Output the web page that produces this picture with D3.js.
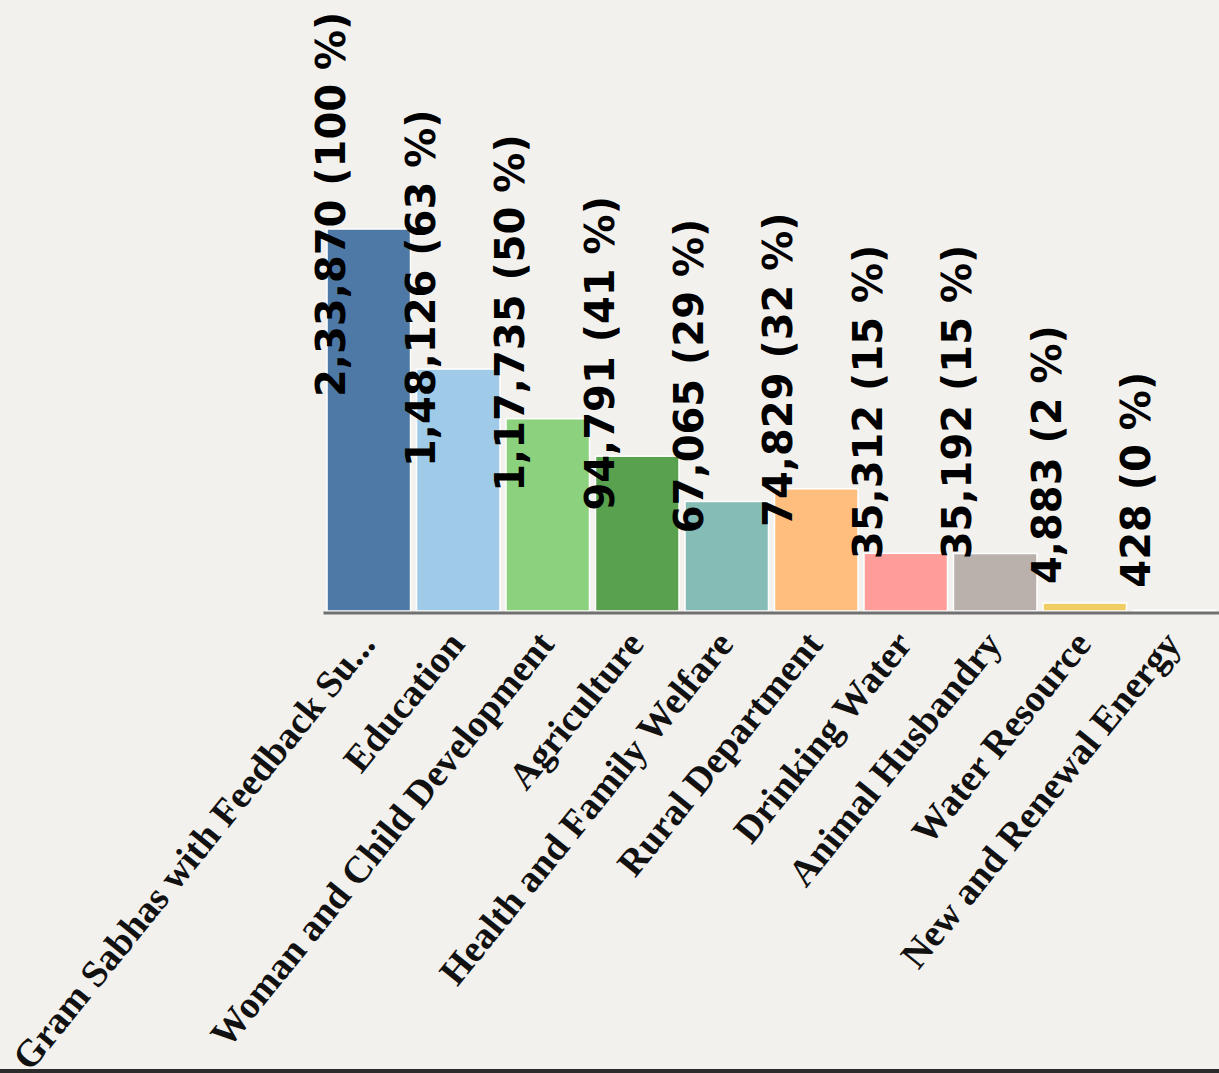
<!DOCTYPE html>
<html>
<head>
<meta charset="utf-8">
<script src="https://cdn.jsdelivr.net/npm/d3@7"></script>
<style>
  html, body { margin: 0; padding: 0; background: #f2f1ee; overflow: hidden; }
</style>
</head>
<body>
<svg id="chart"></svg>
<script>
// departments on the x axis (first one is shown truncated in the source)
const departments = [
    "Gram Sabhas with Feedback Su...",
    "Education",
    "Woman and Child Development",
    "Agriculture",
    "Health and Family Welfare",
    "Rural Department",
    "Drinking Water",
    "Animal Husbandry",
    "Water Resource",
    "New and Renewal Energy"
];

// counts per department
const counts = [233870, 148126, 117735, 94791, 67065, 74829, 35312, 35192, 4883, 428];

// share of the first bar, as printed in the labels
const percents = [100, 63, 50, 41, 29, 32, 15, 15, 2, 0];

const barColors = [
    "#4e79a7", "#a0cbe8", "#8cd17d", "#59a14f", "#86bcb6",
    "#ffbe7d", "#ff9d9a", "#bab0ac", "#f1ce63", "#d4a6c8"
];

const width = 1219;
const height = 1073;
const margin = { left: 323, right: -1, base: 611, top: 229 };

const data = departments.map((name, i) => ({
    name,
    value: counts[i],
    pct: percents[i],
    color: barColors[i]
}));

const svg = d3.select("#chart")
    .attr("width", width)
    .attr("height", height);

const x = d3.scaleBand()
    .domain(departments)
    .range([margin.left, width - margin.right])
    .paddingInner(0.067)
    .paddingOuter(0.045);

const y = d3.scaleLinear()
    .domain([0, d3.max(counts)])
    .range([margin.base, margin.top]);

// Indian-style grouping: 2,33,870
const fmt = v => {
    const s = String(v);
    if (s.length <= 3) return s;
    const last3 = s.slice(-3);
    let rest = s.slice(0, -3);
    const parts = [];
    while (rest.length > 2) {
        parts.unshift(rest.slice(-2));
        rest = rest.slice(0, -2);
    }
    if (rest) parts.unshift(rest);
    return parts.join(",") + "," + last3;
};

svg.selectAll("rect.bar")
    .data(data)
    .enter()
    .append("rect")
    .attr("class", "bar")
    .attr("x", d => x(d.name))
    .attr("y", d => y(d.value))
    .attr("width", x.bandwidth())
    .attr("height", d => y(0) - y(d.value))
    .attr("fill", d => d.color)
    .attr("stroke", "#ffffff")
    .attr("stroke-width", 1.5);

const xAxis = d3.axisBottom(x).tickSize(0).tickFormat("");

const gx = svg.append("g")
    .attr("transform", `translate(0,${y(0) + 1.5})`)
    .call(xAxis);

gx.select(".domain")
    .attr("stroke", "#707070")
    .attr("stroke-width", 3);

// rotated category names
svg.append("g")
    .selectAll("text")
    .data(data)
    .enter()
    .append("text")
    .attr("transform", d => `translate(${x(d.name) + x.bandwidth() / 2 + 8},${y(0) + 34}) rotate(-51)`)
    .attr("text-anchor", "end")
    .style("font-family", "'Liberation Serif', 'Times New Roman', serif")
    .style("font-weight", "bold")
    .style("font-size", "38px")
    .style("fill", "#111")
    .text(d => d.name);

// value labels, vertical
svg.append("g")
    .selectAll("text")
    .data(data)
    .enter()
    .append("text")
    .attr("transform", d => `translate(${x(d.name) + 18},${y(d.value / 2) - 23}) rotate(-90)`)
    .attr("text-anchor", "start")
    .style("font-family", "'DejaVu Sans', sans-serif")
    .style("font-weight", "bold")
    .style("font-size", "40px")
    .style("fill", "#000")
    .text(d => `${fmt(d.value)} (${d.pct} %)`);

// dark edge along the bottom of the frame
svg.append("rect")
    .attr("x", 0)
    .attr("y", height - 4)
    .attr("width", width)
    .attr("height", 4)
    .attr("fill", "#2b2b2b");
</script>
</body>
</html>
